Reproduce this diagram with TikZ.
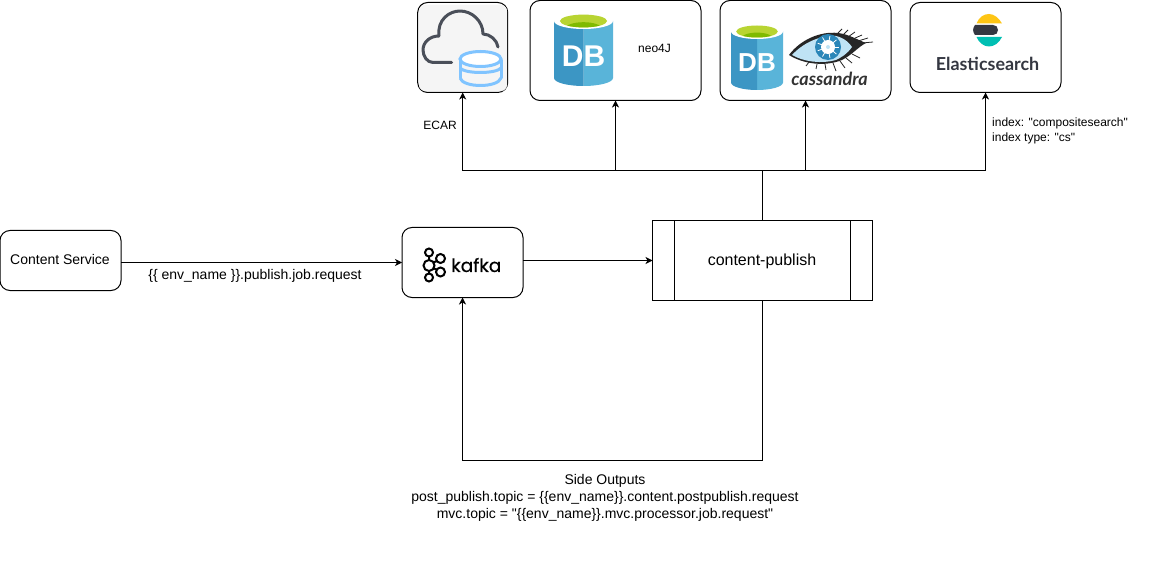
\documentclass[tikz,border=0pt]{standalone}
\usepackage{fontspec}
\newfontfamily\plainfont{Liberation Sans}
\newfontfamily\logofont{Poppins}[FakeBold=0.5]
\newfontfamily\logobold{Lato}
\usetikzlibrary{arrows.meta,calc}
\AtBeginDocument{\plainfont}
\definecolor{dbdark}{HTML}{3C96C4}
\definecolor{dblight}{HTML}{59B4D9}
\definecolor{dbgreen}{HTML}{B8D432}
\definecolor{dbgreenb}{HTML}{7FBA00}
\definecolor{clouddark}{HTML}{4A4F59}
\definecolor{clouddb}{HTML}{80C4FF}
\definecolor{esdark}{HTML}{343741}
\definecolor{esyellow}{HTML}{FEC514}
\definecolor{esteal}{HTML}{00BFB3}
\definecolor{eyeblue}{HTML}{BFE3F5}
\definecolor{irisblue}{HTML}{2A86B8}
\tikzset{
  box/.style={draw=black,line width=1pt,rounded corners=10pt,fill=white,outer sep=0pt,inner sep=0pt},
  procbox/.style={draw=black,line width=1pt,fill=white,outer sep=0pt,inner sep=0pt},
  conn/.style={draw=black,line width=1pt,-{Stealth[length=7pt,width=7pt,inset=2pt]}},
  plain/.style={draw=black,line width=1pt},
  lbl/.style={inner sep=0pt,align=center,font=\fontsize{14}{17}\selectfont},
  small/.style={inner sep=0pt,align=left,font=\fontsize{12}{15}\selectfont},
  kring/.style={draw=black,line width=2pt,fill=white,circle,inner sep=0pt}
}
% name, centre x, top y, half width, rim radius y, bottom y, font size
\newcommand{\dbcan}[7]{%
  \fill[dblight] (#2,#3+#5) -- (#2+#4,#3+#5) -- (#2+#4,#6-#5)
     .. controls (#2+#4,#6-0.45*#5) and (#2+0.55*#4,#6) .. (#2,#6) -- cycle;
  \fill[dbdark] (#2,#3+#5) -- (#2-#4,#3+#5) -- (#2-#4,#6-#5)
     .. controls (#2-#4,#6-0.45*#5) and (#2-0.55*#4,#6) .. (#2,#6) -- cycle;
  \fill[white] (#2,#3+#5) ellipse[x radius=#4,y radius=#5];
  \fill[dbgreen] (#2,#3+#5) ellipse[x radius=#4*0.8,y radius=#5*0.8];
  \begin{scope}
    \clip (#2,#3+#5) ellipse[x radius=#4*0.8,y radius=#5*0.8];
    \fill[dbgreenb] (#2,#3+#5+#5*0.95) ellipse[x radius=#4*0.62,y radius=#5*0.8];
  \end{scope}
  \node[inner sep=0pt,text=white,font=\bfseries\fontsize{#7}{#7}\selectfont] (#1) at (#2,{#3+(#6-#3)*0.59}) {DB};
}
\begin{document}
\begin{tikzpicture}[x=1pt,y=-1pt]
\useasboundingbox (0,0) rectangle (1169,561);
\fill[white] (0,0) rectangle (1169,561);

% boxes
\node[box,minimum width=121pt,minimum height=60pt] (svc) at (60.5,260.5) {};
\node[lbl] (svct) at (60,259.5) {Content Service};
\node[box,minimum width=121pt,minimum height=70pt] (kafka) at (462.5,262.5) {};
\node[procbox,minimum width=220pt,minimum height=80pt] (pub) at (762.5,260.5) {};
\draw[plain] (674.5,220.5) -- (674.5,300.5);
\draw[plain] (850.5,220.5) -- (850.5,300.5);
\node[inner sep=0pt,font=\fontsize{16}{19}\selectfont] (pubt) at (762,261) {content-publish};

\node[box,minimum width=90pt,minimum height=90pt] (ecar) at (462.7,47.5) {};
\node[box,minimum width=171pt,minimum height=100pt] (neo) at (615.5,50.5) {};
\node[box,minimum width=171pt,minimum height=100pt] (cass) at (805.5,50.5) {};
\node[box,minimum width=151pt,minimum height=90pt] (es) at (985.5,47.5) {};

% connectors
\coordinate (hub) at (762.5,170.5);
\coordinate (low) at (762.5,460.5);
\coordinate (svcout) at (121,262.5);
\draw[conn] (svcout) -- (kafka.west);
\draw[conn] (kafka.east |- pub.west) -- (pub.west);
\draw[conn] (pub.north) -- (hub) -| (ecar.south);
\draw[conn] (pub.north) -- (hub) -| (neo.south);
\draw[conn] (pub.north) -- (hub) -| (cass.south);
\draw[conn] (pub.north) -- (hub) -| (es.south);
\draw[conn] (pub.south) -- (low) -| (kafka.south);

% ECAR icon
\fill[black!4,rounded corners=6pt] (419,5) rectangle (507,91);
\draw[clouddark,line width=3pt,line cap=round,line join=round]
  (451.5,62.5) -- (433,62.5) .. controls (427,62.5) and (423,56) .. (423,50)
  .. controls (423,42) and (430,36) .. (439,36)
  .. controls (437,20) and (449,11) .. (460,11)
  .. controls (472,11) and (483,21) .. (483,34)
  .. controls (490,34) and (497,40) .. (498,47);
\begin{scope}[clouddb,line width=3pt]
  \draw[line cap=round] (460,60) -- (460,78) (501,60) -- (501,78);
  \draw[fill=white] (480.5,59) ellipse[x radius=20.5,y radius=7.5];
  \draw (460,68) .. controls (465,74) and (496,74) .. (501,68);
  \draw (460,78) .. controls (463,88) and (498,88) .. (501,78);
\end{scope}

% DB cans
\dbcan{dbneo}{583.5}{13}{29.5}{8}{86}{30}
\node[small,anchor=center] (neot) at (654.5,48) {neo4J};
\dbcan{dbcass}{757}{24}{26}{7.5}{90}{26}

% Cassandra eye
\fill[black!85] (789,55) .. controls (800,40) and (820,31) .. (838,33)
  .. controls (848,34) and (858,40) .. (866,43)
  .. controls (858,47) and (852,55) .. (842,60)
  .. controls (825,67) and (803,64) .. (789,55) -- cycle;
\fill[eyeblue] (792,55) .. controls (803,43) and (820,35) .. (836,36)
  .. controls (845,38) and (850,44) .. (852,47)
  .. controls (847,54) and (842,57) .. (836,60)
  .. controls (822,64) and (804,62) .. (792,55) -- cycle;
\fill[irisblue] (828,47) circle[radius=13];
\fill[white] (828,47) circle[radius=7];
\foreach \a in {0,40,...,320}
  \draw[white,line width=.8pt] (828,47) -- ++(\a:11);
\fill[eyeblue] (828,47) circle[radius=2];
\foreach \xa/\ya/\xb/\yb in {838/33/842/29, 843/35/848/30, 848/37/855/32, 853/39/862/35, 858/41/868/38, 862/43/873/42, 846/58/852/63, 840/61/845/68, 833/63/836/71, 825/64/826/70, 817/64/816/69, 809/62/806/66, 852/54/860/58}
  \draw[black!85,line width=.8pt] (\xa,\ya) -- (\xb,\yb);
\node[inner sep=0pt,text=black!80,font=\logobold\bfseries\itshape\fontsize{18}{18}\selectfont] (casst) at (829.5,79) {cassandra};

% Elasticsearch logo
\fill[esyellow] (976.5,23.5) .. controls (979,17) and (984,14) .. (989,14) .. controls (994,14) and (999,18) .. (1002,23.5) -- cycle;
\fill[esdark] (975,25) -- (993,25) .. controls (996,25) and (998,27) .. (998,30) .. controls (998,33) and (996,35) .. (993,35) -- (975,35) .. controls (972.5,32) and (972.5,28) .. (975,25) -- cycle;
\fill[esteal] (976.5,37) .. controls (979,43) and (984,46.5) .. (989,46.5) .. controls (994,46.5) and (999,43) .. (1002,37) -- cycle;
\node[inner sep=0pt,text=esdark,font=\logobold\bfseries\fontsize{17.9}{18}\selectfont] (est) at (987.5,64) {Elasticsearch};

% Kafka logo
\draw[black,line width=2pt] (429,252.5) -- (429,277.5) (429,265.5) -- (440.5,258.5) (429,265.5) -- (440.5,272);
\node[kring,minimum size=8pt] (k1) at (429,252.5) {};
\node[kring,minimum size=11pt] (k2) at (429,265.5) {};
\node[kring,minimum size=8pt] (k3) at (429,277.5) {};
\node[kring,minimum size=9pt] (k4) at (440.5,258.5) {};
\node[kring,minimum size=9pt] (k5) at (440.5,272) {};
\node[inner sep=0pt,anchor=base west,font=\logofont\fontsize{18.5}{20}\selectfont] (kt) at (451,272) {kafka};

% labels
\node[lbl] (topic) at (255,275.5) {\{\{ env\_name \}\}.publish.job.request};
\node[small,anchor=center] (ecart) at (440,125) {ECAR};
\node[small,anchor=west] (idx) at (992,130.5) {index: "compositesearch"\\index type: "cs"};
\node[lbl] (side) at (605,497.5) {Side Outputs\\post\_publish.topic = \{\{env\_name\}\}.content.postpublish.request\\mvc.topic = "\{\{env\_name\}\}.mvc.processor.job.request"};
\end{tikzpicture}
\end{document}
